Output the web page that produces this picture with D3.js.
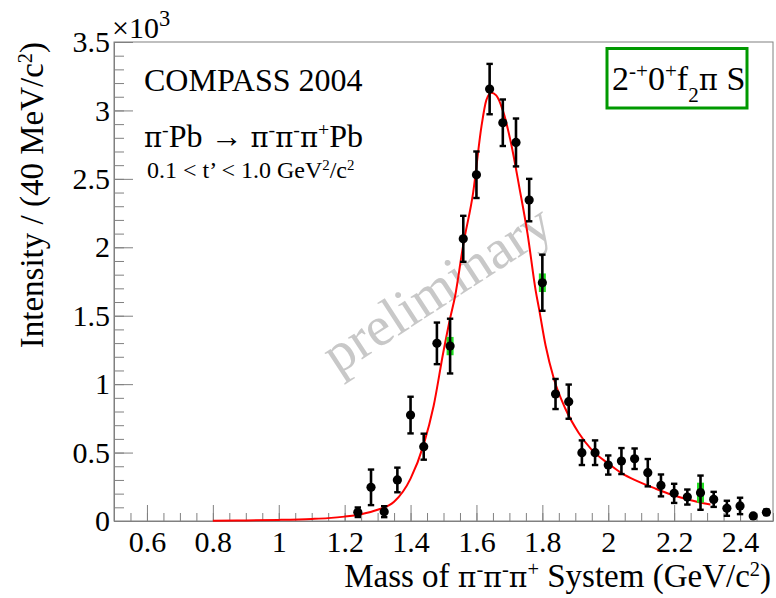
<!DOCTYPE html>
<html>
<head>
<meta charset="utf-8">
<script src="https://cdn.jsdelivr.net/npm/d3@7"></script>
<style>
  html, body { margin: 0; padding: 0; background: #fff; }
  svg { display: block; font-family: "Liberation Serif", "Times New Roman", serif; }
  .greek { font-family: "DejaVu Serif", "Liberation Serif", serif; }
</style>
</head>
<body>
<svg id="chart" width="776" height="598"></svg>
<script>
// Measured intensity per 40 MeV bin (in units of 10^3), statistical and systematic errors
const mass = [1.24, 1.28, 1.32, 1.36, 1.40, 1.44, 1.48, 1.52, 1.56, 1.60, 1.64, 1.68, 1.72, 1.76, 1.80, 1.84,
              1.88, 1.92, 1.96, 2.00, 2.04, 2.08, 2.12, 2.16, 2.20, 2.24, 2.28, 2.32, 2.36, 2.40, 2.44, 2.48];
const intensity = [0.064, 0.246, 0.068, 0.300, 0.774, 0.543, 1.298, 1.278, 2.062, 2.530, 3.156, 2.910, 2.766, 2.345, 1.741, 0.928,
                   0.872, 0.499, 0.499, 0.409, 0.438, 0.455, 0.353, 0.260, 0.202, 0.175, 0.207, 0.158, 0.093, 0.110, 0.037, 0.064];
const statErr = [0.035, 0.130, 0.040, 0.090, 0.134, 0.095, 0.152, 0.200, 0.168, 0.170, 0.184, 0.170, 0.175, 0.155, 0.205, 0.110,
                 0.125, 0.090, 0.090, 0.070, 0.095, 0.075, 0.100, 0.080, 0.070, 0.055, 0.125, 0.055, 0.055, 0.060, 0.015, 0.020];
const sysErr = [0, 0, 0, 0, 0, 0, 0, 0.067, 0, 0, 0, 0, 0, 0, 0.068, 0,
                0, 0, 0, 0, 0, 0, 0, 0, 0, 0, 0.073, 0, 0, 0, 0, 0];

// Breit-Wigner fit curve, sampled
const fitMass = [0.80, 0.90, 1.00, 1.10, 1.15, 1.20, 1.25, 1.30, 1.35, 1.40, 1.44, 1.47, 1.50, 1.52, 1.535, 1.56, 1.59,
                 1.615, 1.63, 1.645, 1.66, 1.68, 1.705, 1.73, 1.755, 1.78, 1.79, 1.81, 1.835, 1.87, 1.91, 1.95, 2.00,
                 2.04, 2.09, 2.14, 2.195, 2.245, 2.31];
const fitValue = [0.002, 0.004, 0.008, 0.015, 0.021, 0.032, 0.050, 0.082, 0.140, 0.310, 0.560, 0.840, 1.240, 1.480, 1.640, 2.020, 2.400,
                  2.880, 3.075, 3.130, 3.110, 3.000, 2.760, 2.440, 2.100, 1.680, 1.550, 1.280, 1.040, 0.820, 0.645, 0.520, 0.420,
                  0.350, 0.290, 0.240, 0.190, 0.155, 0.120];

const xTicks = [0.6, 0.8, 1.0, 1.2, 1.4, 1.6, 1.8, 2.0, 2.2, 2.4];
const xTickLabels = ["0.6", "0.8", "1", "1.2", "1.4", "1.6", "1.8", "2", "2.2", "2.4"];
const yTicks = [0, 0.5, 1, 1.5, 2, 2.5, 3, 3.5];
const yTickLabels = ["0", "0.5", "1", "1.5", "2", "2.5", "3", "3.5"];

const svg = d3.select("#chart");
const L = 114, R = 773, T = 42, B = 521;
const x = d3.scaleLinear().domain([0.5, 2.5]).range([L, R]);
const y = d3.scaleLinear().domain([0, 3.5]).range([B, T]);
const frameColor = "#808080";

// rich text helper: parts with optional superscript / subscript / greek glyphs
function rich(textSel, parts, size, supScale = 0.62) {
  parts.forEach(p => {
    const ts = textSel.append("tspan").text(p.t);
    if (p.sup) ts.attr("baseline-shift", "super").attr("font-size", size * supScale);
    if (p.sub) ts.attr("baseline-shift", "sub").attr("font-size", size * supScale);
    if (p.g) ts.attr("class", "greek").attr("font-size", size * 0.86);
  });
  return textSel;
}

// watermark
svg.append("text")
  .attr("transform", "translate(447,304) rotate(-33)")
  .attr("text-anchor", "middle")
  .attr("font-size", 56)
  .attr("fill", "#c8c8c8")
  .text("preliminary");

// frame
svg.append("rect")
  .attr("x", L).attr("y", T).attr("width", R - L).attr("height", B - T)
  .attr("fill", "none").attr("stroke", frameColor).attr("stroke-width", 1);

// minor ticks
const xMinor = d3.range(0.5, 2.5001, 0.05).map(v => +v.toFixed(2));
svg.append("g").attr("transform", `translate(0,${B})`)
  .call(d3.axisBottom(x).tickValues(xMinor).tickSize(-8).tickSizeOuter(0).tickFormat(""))
  .call(g => g.select(".domain").remove())
  .call(g => g.selectAll("line").attr("stroke", frameColor));
const yMinor = d3.range(0, 3.5001, 0.1).map(v => +v.toFixed(2));
svg.append("g").attr("transform", `translate(${L},0)`)
  .call(d3.axisLeft(y).tickValues(yMinor).tickSize(-10).tickSizeOuter(0).tickFormat(""))
  .call(g => g.select(".domain").remove())
  .call(g => g.selectAll("line").attr("stroke", frameColor));

// major ticks with labels
svg.append("g").attr("transform", `translate(0,${B})`)
  .call(d3.axisBottom(x).tickValues(xTicks).tickSize(-16).tickSizeOuter(0).tickPadding(10)
    .tickFormat((d, i) => xTickLabels[i]))
  .call(g => g.select(".domain").attr("stroke", frameColor))
  .call(g => g.selectAll("line").attr("stroke", frameColor))
  .call(g => g.selectAll("text").attr("font-size", 30).attr("fill", "#000"));
svg.append("g").attr("transform", `translate(${L},0)`)
  .call(d3.axisLeft(y).tickValues(yTicks).tickSize(-19).tickSizeOuter(0).tickPadding(4)
    .tickFormat((d, i) => yTickLabels[i]))
  .call(g => g.select(".domain").attr("stroke", frameColor))
  .call(g => g.selectAll("line").attr("stroke", frameColor))
  .call(g => g.selectAll("text").attr("font-size", 30).attr("fill", "#000"));

svg.selectAll("g").attr("font-family", null);

// exponent label
rich(svg.append("text").attr("x", 112).attr("y", 38).attr("font-size", 30),
  [{ t: "×10" }, { t: "3", sup: true }], 30, 0.75);

// axis titles
rich(svg.append("text").attr("x", 771).attr("y", 587).attr("text-anchor", "end").attr("font-size", 33),
  [{ t: "Mass of " }, { t: "π", g: true }, { t: "-", sup: true }, { t: "π", g: true }, { t: "-", sup: true },
   { t: "π", g: true }, { t: "+", sup: true },
   { t: " System (GeV/c" }, { t: "2", sup: true }, { t: ")" }], 33);
rich(svg.append("text").attr("transform", "translate(43,42) rotate(-90)").attr("text-anchor", "end").attr("font-size", 33),
  [{ t: "Intensity / (40 MeV/c" }, { t: "2", sup: true }, { t: ")" }], 33);

// annotations
svg.append("text").attr("x", 144).attr("y", 91).attr("font-size", 32).text("COMPASS 2004");
rich(svg.append("text").attr("x", 144).attr("y", 147).attr("font-size", 32),
  [{ t: "π", g: true }, { t: "-", sup: true }, { t: "Pb → " }, { t: "π", g: true }, { t: "-", sup: true },
   { t: "π", g: true }, { t: "-", sup: true }, { t: "π", g: true }, { t: "+", sup: true }, { t: "Pb" }], 32);
rich(svg.append("text").attr("x", 147).attr("y", 178).attr("font-size", 24),
  [{ t: "0.1 < t’ < 1.0 GeV" }, { t: "2", sup: true }, { t: "/c" }, { t: "2", sup: true }], 24);

// wave label box
svg.append("rect").attr("x", 607).attr("y", 48.5).attr("width", 140).attr("height", 59.5)
  .attr("fill", "#fff").attr("stroke", "#009900").attr("stroke-width", 3);
rich(svg.append("text").attr("x", 612).attr("y", 90).attr("font-size", 34),
  [{ t: "2" }, { t: "-+", sup: true }, { t: "0" }, { t: "+", sup: true }, { t: "f" }, { t: "2", sub: true },
   { t: "π", g: true }, { t: " S" }], 34);

// fit curve
const fitPts = fitMass.map((m, i) => [m, fitValue[i]]);
svg.append("path")
  .datum(fitPts)
  .attr("fill", "none").attr("stroke", "#ff0000").attr("stroke-width", 2)
  .attr("d", d3.line().x(d => x(d[0])).y(d => y(d[1])).curve(d3.curveMonotoneX));

// data points
const pts = mass.map((m, i) => ({ m, v: intensity[i], e: statErr[i], s: sysErr[i] }));
const gp = svg.append("g");
gp.selectAll("rect.sys").data(pts.filter(d => d.s > 0)).join("rect").attr("class", "sys")
  .attr("x", d => x(d.m) - 3.5).attr("width", 7)
  .attr("y", d => y(d.v + d.s)).attr("height", d => y(d.v - d.s) - y(d.v + d.s))
  .attr("fill", "#22dd22");
gp.selectAll("line.err").data(pts).join("line").attr("class", "err")
  .attr("x1", d => x(d.m)).attr("x2", d => x(d.m))
  .attr("y1", d => y(d.v - d.e)).attr("y2", d => y(d.v + d.e))
  .attr("stroke", "#000").attr("stroke-width", 2.6);
gp.selectAll("line.capHi").data(pts).join("line").attr("class", "capHi")
  .attr("x1", d => x(d.m) - 3.2).attr("x2", d => x(d.m) + 3.2)
  .attr("y1", d => y(d.v + d.e)).attr("y2", d => y(d.v + d.e))
  .attr("stroke", "#000").attr("stroke-width", 2.4);
gp.selectAll("line.capLo").data(pts).join("line").attr("class", "capLo")
  .attr("x1", d => x(d.m) - 3.2).attr("x2", d => x(d.m) + 3.2)
  .attr("y1", d => y(d.v - d.e)).attr("y2", d => y(d.v - d.e))
  .attr("stroke", "#000").attr("stroke-width", 2.4);
gp.selectAll("circle").data(pts).join("circle")
  .attr("cx", d => x(d.m)).attr("cy", d => y(d.v)).attr("r", 4.6).attr("fill", "#000");
</script>
</body>
</html>
